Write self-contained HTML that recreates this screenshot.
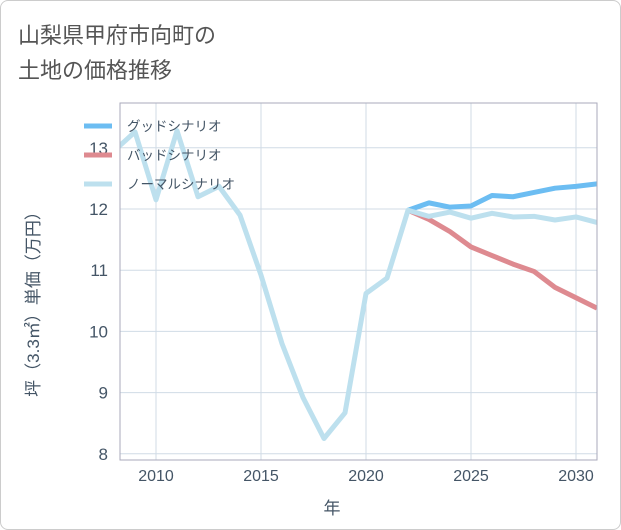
<!DOCTYPE html>
<html><head><meta charset="utf-8"><style>
body{margin:0;background:#fff;}
.wrap{width:619px;height:528px;border:1px solid #ccc;border-radius:8px;position:relative;overflow:hidden;font-family:"Liberation Sans","Noto Sans CJK JP",sans-serif;}
</style></head><body>
<div class="wrap">
<svg width="621" height="530" id="chart" style="position:absolute;left:-1px;top:-1px;font-family:'Liberation Sans','Noto Sans CJK JP',sans-serif">
<text x="18" y="43" font-size="22" fill="#555">山梨県甲府市向町の</text>
<text x="18" y="78" font-size="22" fill="#555">土地の価格推移</text>
<g id="grid"></g><g id="series"></g><g id="axes"></g>
<text x="332" y="514" font-size="17" fill="#456" text-anchor="middle">年</text>
<text transform="translate(39,300) rotate(-90)" font-size="17" fill="#456" text-anchor="middle">坪（3.3㎡）単価（万円）</text>
<g id="legend"></g>
</svg>
</div>
<script>
const years=[2008,2009,2010,2011,2012,2013,2014,2015,2016,2017,2018,2019,2020,2021,2022,2023,2024,2025,2026,2027,2028,2029,2030,2031];
const normalVals=[12.95,13.26,12.15,13.28,12.2,12.37,11.9,10.92,9.8,8.92,8.25,8.67,10.62,10.87,11.98,11.88,11.95,11.85,11.93,11.87,11.88,11.82,11.87,11.78];
const futureYears=[2022,2023,2024,2025,2026,2027,2028,2029,2030,2031];
const goodVals=[11.98,12.1,12.03,12.05,12.22,12.2,12.27,12.34,12.37,12.41];
const badVals=[11.98,11.83,11.63,11.38,11.24,11.1,10.98,10.72,10.55,10.38];
const xTicks=[2010,2015,2020,2025,2030];
const yTicks=[8,9,10,11,12,13];
const L=120,R=597,T=103,B=460;
const x=v=>156+(v-2010)*21;
const y=v=>209-(v-12)*61.2;
const NS="http://www.w3.org/2000/svg";
function mk(p,t,a){const e=document.createElementNS(NS,t);for(const k in a)e.setAttribute(k,a[k]);p.appendChild(e);return e;}
const grid=document.getElementById('grid'),axes=document.getElementById('axes'),ser=document.getElementById('series'),leg=document.getElementById('legend');
for(const t of xTicks){const l=mk(grid,'line',{x1:x(t),x2:x(t),y1:T,y2:B,stroke:'#d0dbe6','stroke-width':1});


const tx=mk(axes,'text',{x:x(t),y:481,'font-size':16,fill:'#456','text-anchor':'middle'});tx.textContent=t;

}
for(const t of yTicks){const l=mk(grid,'line',{x1:L,x2:R,y1:y(t),y2:y(t),stroke:'#d0dbe6','stroke-width':1});


const tx=mk(axes,'text',{x:108,y:y(t)+6,'font-size':17,fill:'#456','text-anchor':'end'});tx.textContent=t;

}
const fr=mk(axes,'rect',{x:L,y:T,width:R-L,height:B-T,fill:'none',stroke:'#aab','stroke-width':1});


mk(ser,'clipPath',{id:'cp'}).appendChild(document.createElementNS(NS,'rect'));
const cr=document.querySelector('#cp rect');cr.setAttribute('x',L);cr.setAttribute('y',T);cr.setAttribute('width',R-L);cr.setAttribute('height',B-T);
function line(xs,vs,c,name){const p=mk(ser,'polyline',{points:xs.map((v,i)=>x(v)+','+y(vs[i])).join(' '),fill:'none',stroke:c,'stroke-width':5,'stroke-linejoin':'round','clip-path':'url(#cp)'});

}
line(futureYears,badVals,'#de8a90','bad-scenario-line');
line(futureYears,goodVals,'#6cbdf2','good-scenario-line');
line(years,normalVals,'#bde0ee','normal-scenario-line');
const items=[['グッドシナリオ','#6cbdf2'],['バッドシナリオ','#de8a90'],['ノーマルシナリオ','#bde0ee']];
items.forEach((it,i)=>{const yy=126+i*29;const l=mk(leg,'line',{x1:84,x2:112,y1:yy,y2:yy,stroke:it[1],'stroke-width':5});


const t=mk(leg,'text',{x:127,y:yy+5,'font-size':13.5,fill:'#456'});t.textContent=it[0];

});
</script>
</body></html>
